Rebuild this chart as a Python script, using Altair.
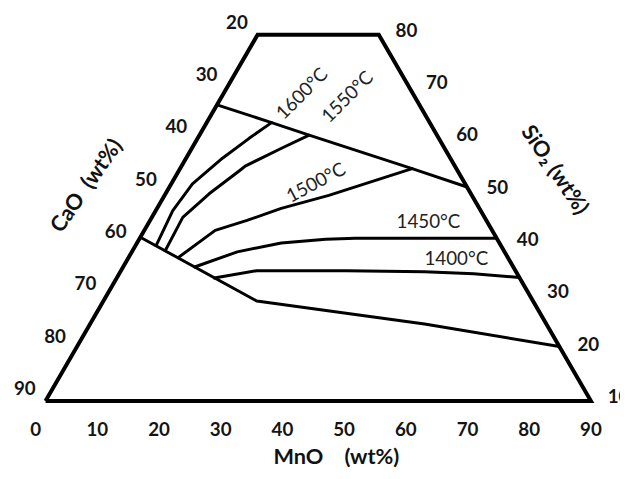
import altair as alt
import pandas as pd

# ---- data: ternary compositions (wt%), CaO = 100 - MnO - SiO2 ----
frame_mno = [0, 0, 20, 90, 0]
frame_sio2 = [10, 80, 80, 10, 10]

line_names = ["upper", "1600", "1550", "1500", "1450", "1400", "lower"]
line_mno = [
    [0, 10.7, 18.1, 38.3, 49.1],
    [3.4, 2.8, 3.5, 6.0, 8.5, 10.7],
    [5.4, 5.1, 7.2, 10.0, 10.5, 14.8, 18.1],
    [8.2, 11.7, 16.0, 20.5, 27.1, 38.3],
    [11.8, 17.4, 23.8, 30.8, 35.6, 58.9],
    [16.1, 22.4, 37.1, 50.2, 58.5, 66.4],
    [0, 25.3, 55.2, 79.6],
]
line_sio2 = [
    [66.6, 63.2, 60.8, 54.4, 50.9],
    [39.7, 46.4, 51.5, 56.4, 60.2, 63.2],
    [38.7, 45.1, 49.6, 54.0, 54.9, 58.3, 60.8],
    [37.4, 42.6, 44.5, 46.8, 49.3, 54.4],
    [35.6, 38.5, 40.2, 40.9, 41.1, 41.1],
    [33.5, 34.9, 34.9, 34.7, 34.3, 33.6],
    [41.3, 29.1, 24.7, 20.4],
]

cao_ticks = [20, 30, 40, 50, 60, 70, 80, 90]
sio2_ticks = [10, 20, 30, 40, 50, 60, 70, 80]
mno_ticks = [0, 10, 20, 30, 40, 50, 60, 70, 80, 90]

temp_labels = ["1600°C", "1550°C", "1500°C", "1450°C", "1400°C"]
temp_mno = [13.0, 20.8, 23.8, 46.1, 54.2]
temp_sio2 = [68.7, 68.1, 51.7, 44.2, 37.2]
temp_angle = [315, 315, 332, 0, 0]

NB = "\u00a0"
title_texts = ["CaO" + NB * 2 + "(wt%)", "SiO₂" + NB + "(wt%)", "MnO" + NB * 4 + "(wt%)"]

# ---- helpers ----
def cart(m, s):
    return m + s / 2.0, s

X0, X1 = -1.19, 99.80
Y0, Y1 = -4.34, 84.53
xs = alt.Scale(domain=[X0, X1], nice=False, zero=False)
ys = alt.Scale(domain=[Y0, Y1], nice=False, zero=False)

frame_df = pd.DataFrame(
    [{"i": i, "x": cart(m, s)[0], "y": s} for i, (m, s) in enumerate(zip(frame_mno, frame_sio2))]
)
rows = []
for name, ms, ss in zip(line_names, line_mno, line_sio2):
    for i, (m, s) in enumerate(zip(ms, ss)):
        rows.append({"line": name, "i": i, "x": cart(m, s)[0], "y": s})
lines_df = pd.DataFrame(rows)

left_df = pd.DataFrame([{"t": str(v), "x": (100 - v) / 2.0, "y": 100 - v} for v in cao_ticks])
right_df = pd.DataFrame([{"t": str(v), "x": 100 - v / 2.0, "y": v} for v in sio2_ticks])
bottom_df = pd.DataFrame(
    [{"t": str(v), "x": v + 5 - (10 - v / 9.0) / 6.139, "y": 10} for v in mno_ticks]
)
temp_df = pd.DataFrame(
    [{"t": t, "x": cart(m, s)[0], "y": s, "a": a}
     for t, m, s, a in zip(temp_labels, temp_mno, temp_sio2, temp_angle)]
)
title_df = pd.DataFrame([
    {"t": title_texts[0], "x": 11.76, "y": 51.13, "a": 305},
    {"t": title_texts[1], "x": 89.05, "y": 54.15, "a": 56},
    {"t": title_texts[2], "x": 53.0, "y": -0.75, "a": 0},
])

X = alt.X("x:Q", scale=xs, axis=None)
Y = alt.Y("y:Q", scale=ys, axis=None)

frame = alt.Chart(frame_df).mark_line(
    color="black", strokeWidth=4, strokeJoin="miter", clip=False
).encode(x=X, y=Y, order="i:Q")

curves = alt.Chart(lines_df).mark_line(
    color="black", strokeWidth=3, strokeCap="round", strokeJoin="round"
).encode(x=X, y=Y, detail="line:N", order="i:Q")

tick_style = dict(font="Lato", fontWeight="bold", fontSize=19, color="#141414",
                  align="center", baseline="middle")
left_t = alt.Chart(left_df).mark_text(dx=-21, dy=-12, **tick_style).encode(x=X, y=Y, text="t:N")
right_t = alt.Chart(right_df).mark_text(dx=28, dy=-4, **tick_style).encode(x=X, y=Y, text="t:N")
bottom_t = alt.Chart(bottom_df).mark_text(dy=30, **tick_style).encode(x=X, y=Y, text="t:N")

temps = alt.Chart(temp_df).mark_text(
    font="Lato", fontSize=19, color="#222222", align="center", baseline="middle"
).encode(x=X, y=Y, text="t:N", angle=alt.Angle("a:Q", scale=None))

titles = alt.Chart(title_df).mark_text(
    font="Lato", fontWeight="bold", fontSize=22, color="#111111", align="center", baseline="middle"
).encode(x=X, y=Y, text="t:N", angle=alt.Angle("a:Q", scale=None))

chart = alt.layer(frame, curves, left_t, right_t, bottom_t, temps, titles).properties(
    width=620, height=471, padding=0,
    autosize=alt.AutoSizeParams(type="none"),
).configure_view(stroke=None)

chart.save("out.html", embed_options={"renderer": "svg", "actions": False})
